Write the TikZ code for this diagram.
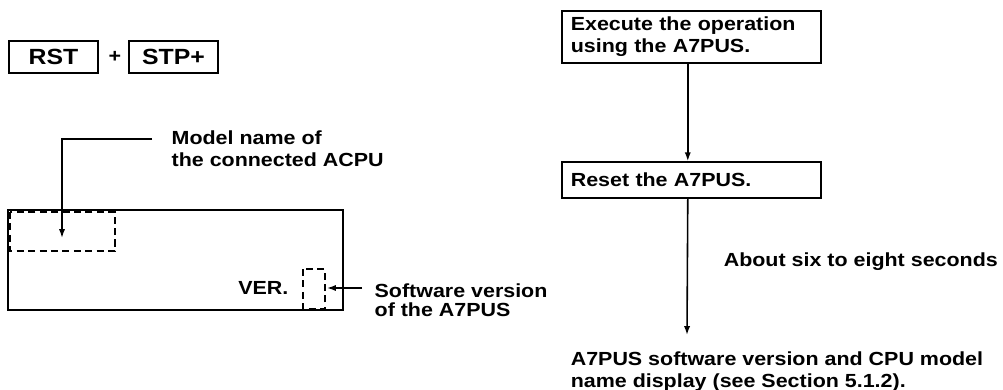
\documentclass[tikz,border=0pt]{standalone}
\usepackage{fontspec}
\setmainfont{Liberation Sans}[FakeStretch=1.13]
\usetikzlibrary{positioning, arrows.meta}

\begin{document}
\begin{tikzpicture}[font=\fontsize{10.8}{12.6}\selectfont\bfseries, line width=0.9pt,
  key/.style={draw, minimum width=1.78cm, minimum height=0.64cm, inner sep=0pt, font=\fontsize{12.5}{14}\selectfont\bfseries},
  stepbox/.style={draw, anchor=west, align=left, text width=4.82cm, inner xsep=0.18cm, inner ysep=0pt},
  dsh/.style={dash pattern=on 4pt off 2.5pt},
  >={Latex[length=5pt,width=3.5pt]}]
  \useasboundingbox (0,0) rectangle (20.06,-7.8);
  % keys
  \node[key] (rst) at (1.07,-1.14) {RST};
  \node (plus) at (2.3,-1.14) {+};
  \node[key] (stp) at (3.47,-1.14) {STP+};
  % display
  \draw (0.16,-4.2) rectangle (6.86,-6.2);
  \draw[dsh] (0.2,-4.24) rectangle (2.3,-5.02);
  \draw[dsh] (6.06,-5.38) rectangle (6.5,-6.18);
  \node[anchor=east] (ver) at (5.9,-5.76) {VER.};
  \node[anchor=west, align=left] (mname) at (3.3,-2.98) {Model name of\\the connected ACPU};
  \node[anchor=west, align=left] (swver) at (7.36,-6.0) {Software version\\[-2pt]of the A7PUS};
  \coordinate (mnend) at (3.04,-2.78);
  \coordinate (mntip) at (1.24,-4.76);
  \coordinate (swend) at (7.24,-5.76);
  \coordinate (swtip) at (6.54,-5.76);
  \draw[->] (mnend) -| (mntip);
  \draw[->] (swend) -- (swtip);
  % flow
  \node[stepbox, minimum height=1.04cm] (exec) at (11.22,-0.74) {Execute the operation\\using the A7PUS.};
  \node[stepbox, minimum height=0.72cm] (reset) at (11.22,-3.6) {Reset the A7PUS.};
  \node[anchor=west, align=left, inner sep=0pt] (disp) at (11.4,-7.44) {A7PUS software version and CPU model\\name display (see Section 5.1.2).};
  \node[anchor=west, inner sep=0pt] (wait) at (14.46,-5.24) {About six to eight seconds};
  \coordinate (disptip) at (13.74,-6.7);
  \draw[->] ([xshift=-0.07cm]exec.south) -- ([xshift=-0.07cm]reset.north);
  \draw[->] ([xshift=-0.07cm]reset.south) -- (disptip);
\end{tikzpicture}
\end{document}
